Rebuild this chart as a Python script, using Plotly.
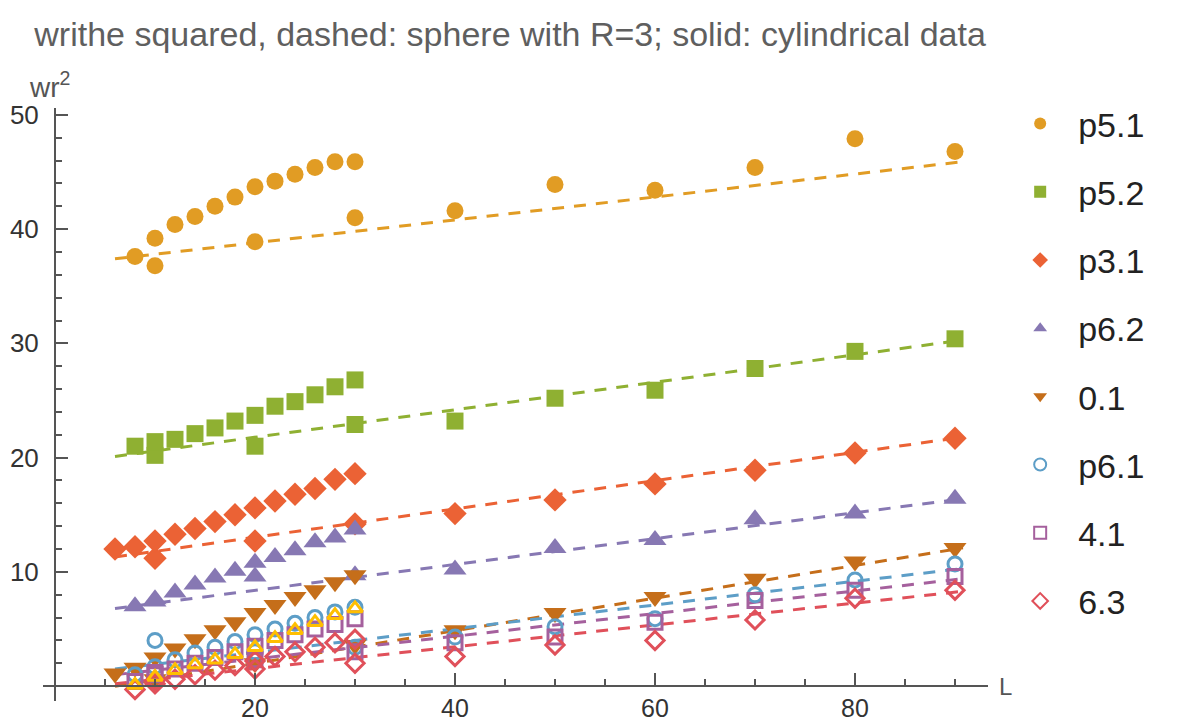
import plotly.graph_objects as go

# --- data -------------------------------------------------------------
names = ["p5.1", "p5.2", "p3.1", "p6.2", "0.1", "p6.1", "4.1", "6.3"]
colors = ["#E19C24", "#8FB032", "#EB6235", "#8778B3", "#C56E1A", "#5D9EC7", "#A5609D", "#E0505A"]
symbols = ["circle", "square", "diamond", "triangle-up", "triangle-down",
           "circle-open", "square-open", "diamond-open"]
sizes = [17, 17, 18, 20, 20, 14, 14, 14]

# cylindrical data (solid)
cyl_L = {
    "p5.1": [8, 10, 12, 14, 16, 18, 20, 22, 24, 26, 28, 30],
    "p5.2": [8, 10, 12, 14, 16, 18, 20, 22, 24, 26, 28, 30],
    "p3.1": [6, 8, 10, 12, 14, 16, 18, 20, 22, 24, 26, 28, 30],
    "p6.2": [8, 10, 12, 14, 16, 18, 20, 22, 24, 26, 28, 30],
    "0.1": [6, 8, 10, 12, 14, 16, 18, 20, 22, 24, 26, 28, 30],
    "p6.1": [8, 10, 12, 14, 16, 18, 20, 22, 24, 26, 28, 30],
    "4.1": [8, 10, 12, 14, 16, 18, 20, 22, 24, 26, 28, 30],
    "6.3": [8, 10, 12, 14, 16, 18, 20, 22, 24, 26, 28, 30],
}
cyl_wr2 = {
    "p5.1": [37.6, 39.2, 40.4, 41.1, 42.0, 42.8, 43.7, 44.2, 44.8, 45.4, 45.9, 45.9],
    "p5.2": [21.0, 21.4, 21.6, 22.1, 22.6, 23.2, 23.7, 24.5, 24.9, 25.5, 26.2, 26.8],
    "p3.1": [12.0, 12.2, 12.7, 13.3, 13.8, 14.4, 15.0, 15.6, 16.2, 16.8, 17.3, 18.1, 18.6],
    "p6.2": [7.0, 7.6, 8.2, 8.9, 9.5, 10.1, 10.8, 11.3, 11.9, 12.6, 13.0, 13.7],
    "0.1": [1.1, 1.6, 2.5, 3.3, 4.1, 4.9, 5.6, 6.4, 7.1, 7.8, 8.4, 9.1, 9.7],
    "p6.1": [1.0, 1.7, 2.3, 2.9, 3.4, 3.9, 4.5, 5.0, 5.5, 6.0, 6.5, 6.9],
    "4.1": [0.4, 1.0, 1.5, 2.0, 2.5, 3.0, 3.5, 4.0, 4.5, 5.0, 5.4, 5.9],
    "6.3": [-0.3, 0.2, 0.6, 1.0, 1.4, 1.8, 2.2, 2.6, 3.0, 3.4, 3.8, 4.1],
}

# one more cylindrical set that carries no legend entry
extra_color = "#FFBF00"
extra_L = [8, 10, 12, 14, 16, 18, 20, 22, 24, 26, 28, 30]
extra_wr2 = [0.1, 0.8, 1.4, 1.9, 2.3, 2.8, 3.4, 4.2, 4.9, 5.6, 6.2, 6.8]

# sphere with R=3 (dashed fits)
sph_L = [10, 20, 30, 40, 50, 60, 70, 80, 90]
sph_wr2 = {
    "p5.1": [36.8, 38.9, 41.0, 41.6, 43.9, 43.4, 45.4, 47.9, 46.8],
    "p5.2": [20.2, 21.0, 22.9, 23.2, 25.2, 25.9, 27.8, 29.3, 30.4],
    "p3.1": [11.2, 12.7, 14.2, 15.1, 16.3, 17.7, 18.9, 20.4, 21.7],
    "p6.2": [7.4, 9.6, 9.7, 10.2, 12.1, 12.8, 14.6, 15.1, 16.4],
    "0.1": [0.6, 2.0, 3.6, 4.9, 6.4, 7.8, 9.4, 10.9, 12.1],
    "p6.1": [4.0, 3.0, 3.4, 4.3, 5.2, 5.9, 8.0, 9.3, 10.7],
    "4.1": [1.2, 2.3, 3.0, 3.8, 4.3, 5.6, 7.5, 8.4, 9.6],
    "6.3": [0.5, 1.5, 2.0, 2.6, 3.6, 4.0, 5.8, 7.7, 8.4],
}

# fitted lines: value at the start and at the end of the L span
fit_L = [6.0, 90.8]
fit_wr2 = {
    "p5.1": [37.4, 45.9],
    "p5.2": [20.1, 30.3],
    "p3.1": [11.3, 21.8],
    "p6.2": [6.8, 16.4],
    "0.1": [0.0, 12.1],
    "p6.1": [1.5, 10.3],
    "4.1": [1.0, 9.4],
    "6.3": [0.2, 8.3],
}

# --- figure -----------------------------------------------------------
FONT = "Liberation Sans, Arial, sans-serif"
fig = go.Figure()

for name, col in zip(names, colors):
    fig.add_trace(go.Scatter(
        x=fit_L, y=fit_wr2[name], mode="lines",
        line=dict(color=col, width=3, dash="12px,10px"),
        legendgroup=name, showlegend=False, hoverinfo="skip"))

for name, col, sym, sz in zip(names, colors, symbols, sizes):
    open_sym = sym.endswith("open")
    mk = dict(color=col, symbol=sym, size=sz,
              line=dict(color=col, width=3 if open_sym else 0))
    fig.add_trace(go.Scatter(
        x=sph_L, y=sph_wr2[name], mode="markers", marker=mk,
        legendgroup=name, showlegend=False))
    fig.add_trace(go.Scatter(
        x=cyl_L[name], y=cyl_wr2[name], mode="markers", marker=mk,
        name=name, legendgroup=name, showlegend=True))

fig.add_trace(go.Scatter(
    x=extra_L, y=extra_wr2, mode="markers", showlegend=False,
    marker=dict(color=extra_color, symbol="triangle-up-open", size=13,
                line=dict(color=extra_color, width=3))))

x_rng = [-1.2, 93.3]
y_rng = [-1.3, 50.6]
axis_col = "#555555"

fig.update_layout(
    width=1178, height=727,
    margin=dict(l=43, r=190, t=108, b=26, autoexpand=False),
    paper_bgcolor="white", plot_bgcolor="white",
    font=dict(family=FONT, color="#333333"),
    title=dict(text="writhe squared, dashed: sphere with R=3; solid: cylindrical data",
               x=0.433, xanchor="center", y=0.953, yanchor="middle",
               font=dict(family=FONT, size=34, color="#5f5f5f")),
    xaxis=dict(range=x_rng, showgrid=False, zeroline=False, automargin=False,
               showline=True, linecolor=axis_col, linewidth=2,
               anchor="free", position=(0 - y_rng[0]) / (y_rng[1] - y_rng[0]),
               tickmode="array", tickvals=[20, 40, 60, 80],
               ticks="inside", ticklen=12, tickwidth=1.5, tickcolor=axis_col,
               minor=dict(tickmode="linear", tick0=0, dtick=5, ticks="inside",
                          ticklen=6, tickwidth=1.5, tickcolor=axis_col),
               ticklabelstandoff=0,
               tickfont=dict(size=25, color="#333333")),
    yaxis=dict(range=y_rng, showgrid=False, zeroline=False, automargin=False,
               showline=True, linecolor=axis_col, linewidth=2,
               anchor="free", position=(0 - x_rng[0]) / (x_rng[1] - x_rng[0]),
               tickmode="array", tickvals=[10, 20, 30, 40, 50],
               ticks="inside", ticklen=12, tickwidth=1.5, tickcolor=axis_col,
               minor=dict(tickmode="linear", tick0=0, dtick=2, ticks="inside",
                          ticklen=6, tickwidth=1.5, tickcolor=axis_col),
               ticklabelstandoff=10,
               tickfont=dict(size=26, color="#333333")),
    legend=dict(x=1.015, xanchor="left", y=1.022, yanchor="top",
                font=dict(family=FONT, size=34, color="#222222"),
                tracegroupgap=21, itemsizing="constant", itemwidth=66,
                maxheight=700, bgcolor="rgba(0,0,0,0)"),
    annotations=[
        dict(text="wr<sup>2</sup>", xref="paper", yref="paper",
             x=-0.017, y=1.005, xanchor="left", yanchor="bottom", showarrow=False,
             font=dict(family=FONT, size=28, color="#555555")),
        dict(text="L", xref="paper", yref="paper",
             x=1.01, y=(0 - y_rng[0]) / (y_rng[1] - y_rng[0]),
             xanchor="left", yanchor="middle", showarrow=False,
             font=dict(family=FONT, size=24, color="#555555")),
    ],
)

fig.write_html("out.html")
